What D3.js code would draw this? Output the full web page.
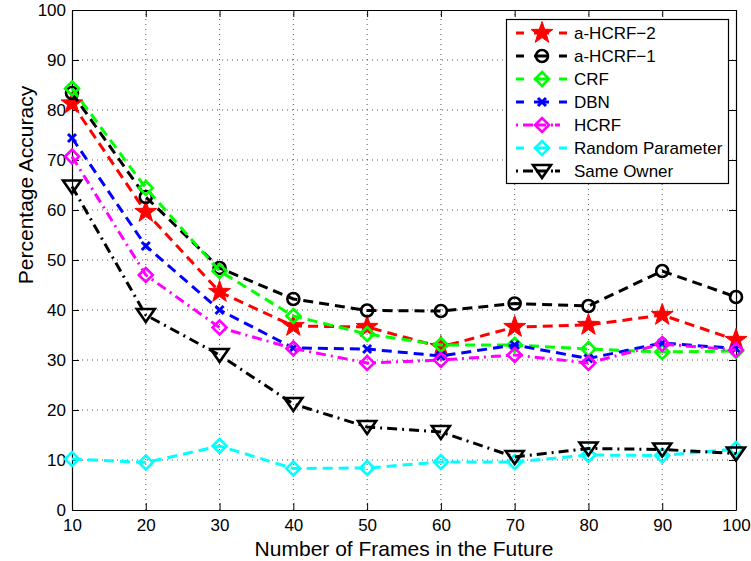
<!DOCTYPE html>
<html>
<head>
<meta charset="utf-8">
<script src="https://cdn.jsdelivr.net/npm/d3@7"></script>
<style>
  body { margin: 0; background: #fff; }
  svg text { font-family: Arial, "Liberation Sans", Helvetica, sans-serif; }
</style>
</head>
<body>
<div id="chart"></div>
<script>
// values
var frames = [10, 20, 30, 40, 50, 60, 70, 80, 90, 100];
var aHCRF2 = [81.3, 59.6, 43.6, 36.8, 36.6, 32.6, 36.6, 37.0, 39.0, 34.0];
var aHCRF1 = [83.4, 62.6, 48.4, 42.2, 39.9, 39.8, 41.3, 40.8, 47.8, 42.6];
var crf = [84.3, 64.4, 47.8, 38.8, 35.2, 33.0, 33.0, 32.2, 31.6, 31.8];
var dbn = [74.4, 52.8, 40.0, 32.4, 32.2, 30.8, 33.0, 30.3, 33.4, 32.3];
var hcrf = [70.7, 47.0, 36.5, 32.3, 29.4, 30.0, 31.0, 29.4, 33.2, 32.0];
var randomParam = [10.2, 9.5, 12.8, 8.3, 8.4, 9.6, 9.6, 11.0, 10.9, 12.2];
var sameOwner = [64.7, 39.0, 31.0, 21.2, 16.6, 15.6, 10.6, 12.3, 12.1, 11.3];

var seriesNames = ["a-HCRF\u22122", "a-HCRF\u22121", "CRF", "DBN", "HCRF", "Random Parameter", "Same Owner"];
var xTicks = [10, 20, 30, 40, 50, 60, 70, 80, 90, 100];
var yTicks = [0, 10, 20, 30, 40, 50, 60, 70, 80, 90, 100];

var series = [
  {name: seriesNames[0], values: aHCRF2, color: "#ff0000", dash: "10,6", marker: "star"},
  {name: seriesNames[1], values: aHCRF1, color: "#000000", dash: "10,6", marker: "circle"},
  {name: seriesNames[2], values: crf, color: "#00ff00", dash: "10,6", marker: "diamond"},
  {name: seriesNames[3], values: dbn, color: "#0000ff", dash: "10,6", marker: "x"},
  {name: seriesNames[4], values: hcrf, color: "#ff00ff", dash: "10,5,2,5", marker: "diamond"},
  {name: seriesNames[5], values: randomParam, color: "#00ffff", dash: "10,6", marker: "diamond"},
  {name: seriesNames[6], values: sameOwner, color: "#000000", dash: "10,5,2,5", marker: "triangle"}
];

var width = 751, height = 561;
var margin = {top: 10, right: 15, bottom: 51, left: 72};

var svg = d3.select("#chart").append("svg")
  .attr("width", width)
  .attr("height", height);

var x = d3.scaleLinear().domain([10, 100]).range([margin.left, width - margin.right]);
var y = d3.scaleLinear().domain([0, 100]).range([height - margin.bottom, margin.top]);

// grid
var grid = svg.append("g");
grid.selectAll(".gx")
  .data(xTicks.slice(1, -1))
  .enter().append("line")
  .attr("x1", function(d) { return x(d); })
  .attr("x2", function(d) { return x(d); })
  .attr("y1", y(0))
  .attr("y2", y(100))
  .attr("stroke", "#555")
  .attr("stroke-width", 1)
  .attr("stroke-dasharray", "1,4");
grid.selectAll(".gy")
  .data(yTicks.slice(1, -1))
  .enter().append("line")
  .attr("y1", function(d) { return y(d); })
  .attr("y2", function(d) { return y(d); })
  .attr("x1", x(10))
  .attr("x2", x(100))
  .attr("stroke", "#555")
  .attr("stroke-width", 1)
  .attr("stroke-dasharray", "1,4");

// axes with inward ticks on all four sides
svg.append("g")
  .attr("transform", "translate(0," + y(0) + ")")
  .call(d3.axisBottom(x).tickValues(xTicks).tickSizeInner(-7).tickSizeOuter(0).tickPadding(9))
  .call(styleAxis);
svg.append("g")
  .attr("transform", "translate(0," + y(100) + ")")
  .call(d3.axisTop(x).tickValues(xTicks).tickSizeInner(-7).tickSizeOuter(0).tickFormat(""))
  .call(styleAxis);
svg.append("g")
  .attr("transform", "translate(" + x(10) + ",0)")
  .call(d3.axisLeft(y).tickValues(yTicks).tickSizeInner(-7).tickSizeOuter(0).tickPadding(6))
  .call(styleAxis);
svg.append("g")
  .attr("transform", "translate(" + x(100) + ",0)")
  .call(d3.axisRight(y).tickValues(yTicks).tickSizeInner(-7).tickSizeOuter(0).tickFormat(""))
  .call(styleAxis);

function styleAxis(g) {
  g.select(".domain").attr("stroke", "#000").attr("stroke-width", 1.2);
  g.selectAll(".tick line").attr("stroke", "#000").attr("stroke-width", 1);
  g.selectAll(".tick text")
    .attr("fill", "#000")
    .style("font-size", "17px")
    .style("font-family", "Arial, 'Liberation Sans', sans-serif");
}

// marker shapes
function markerPath(type) {
  if (type == "star") {
    var pts = [];
    for (var i = 0; i < 10; i++) {
      var r = i % 2 == 0 ? 11.5 : 4.6;
      var a = -Math.PI / 2 + i * Math.PI / 5;
      pts.push([r * Math.cos(a), r * Math.sin(a)]);
    }
    return "M" + pts.join("L") + "Z";
  }
  if (type == "circle") return "M6,0A6,6 0 1,1 -6,0A6,6 0 1,1 6,0Z";
  if (type == "diamond") return "M0,-7L7,0L0,7L-7,0Z";
  if (type == "x") return "M-4,-4L4,4M-4,4L4,-4";
  if (type == "triangle") return "M-9,-6L9,-6L0,7Z";
  return "";
}

function drawMarker(g, s, cx, cy) {
  g.append("path")
    .attr("transform", "translate(" + cx + "," + cy + ")")
    .attr("d", markerPath(s.marker))
    .attr("fill", s.marker == "star" ? s.color : "none")
    .attr("stroke", s.color)
    .attr("stroke-width", s.marker == "star" ? 1 : (s.marker == "x" ? 3 : 2.6))
    .attr("stroke-linejoin", "miter");
}

var line = d3.line()
  .x(function(d, i) { return x(frames[i]); })
  .y(function(d) { return y(d); });

// series: line and markers drawn together, in order
series.forEach(function(s) {
  var g = svg.append("g");
  g.append("path")
    .datum(s.values)
    .attr("d", line)
    .attr("fill", "none")
    .attr("stroke", s.color)
    .attr("stroke-width", 3)
    .attr("stroke-dasharray", s.dash);
  s.values.forEach(function(v, i) {
    drawMarker(g, s, x(frames[i]), y(v));
  });
});

// legend
var legend = svg.append("g");
legend.append("rect")
  .attr("x", 506.5)
  .attr("y", 19.5)
  .attr("width", 222)
  .attr("height", 164)
  .attr("fill", "#fff")
  .attr("stroke", "#000")
  .attr("stroke-width", 1.2);

series.forEach(function(s, i) {
  var cy = 33 + i * 23;
  var g = legend.append("g");
  g.append("line")
    .attr("x1", 516)
    .attr("x2", 567)
    .attr("y1", cy)
    .attr("y2", cy)
    .attr("stroke", s.color)
    .attr("stroke-width", 3)
    .attr("stroke-dasharray", s.dash == "10,6" ? "8,10,15,10,8" : "2,5,10,3,10,5,2");
  drawMarker(g, s, 542, cy);
  g.append("text")
    .attr("x", 574)
    .attr("y", cy + 6)
    .style("font-size", "17px")
    .attr("fill", "#000")
    .text(s.name);
});

// axis labels
svg.append("text")
  .attr("x", (x(10) + x(100)) / 2)
  .attr("y", 556)
  .attr("text-anchor", "middle")
  .style("font-size", "21px")
  .text("Number of Frames in the Future");

svg.append("text")
  .attr("transform", "translate(33,185) rotate(-90)")
  .attr("text-anchor", "middle")
  .style("font-size", "21px")
  .text("Percentage Accuracy");
</script>
</body>
</html>
